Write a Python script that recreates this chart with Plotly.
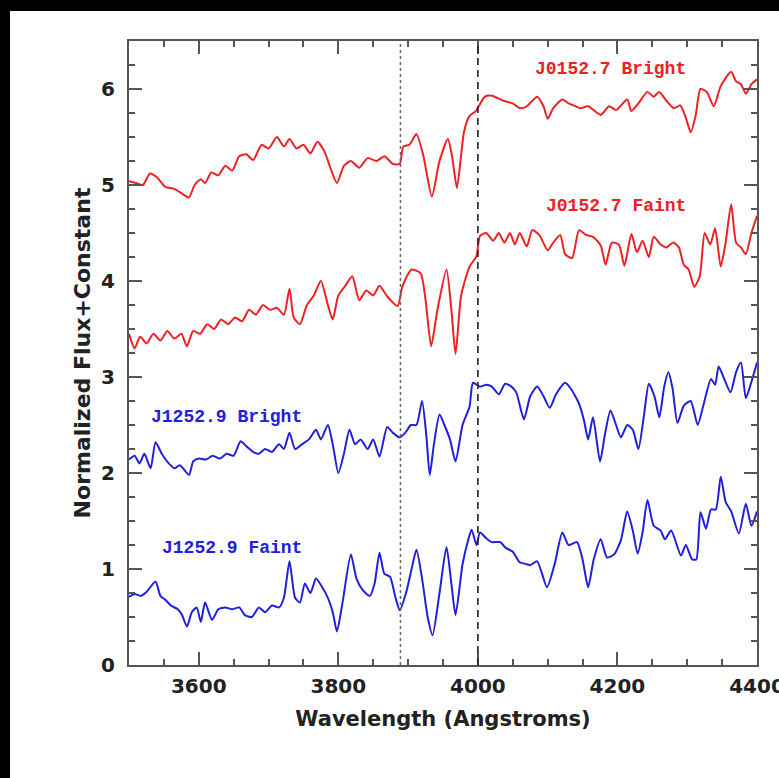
import plotly.graph_objects as go

# ---------------- data ----------------
rb_wl = [3500,3510,3520,3530,3540,3552,3565,3578,3586,3594,3603,3609,3618,3628,3638,3648,3658,3668,3678,3690,
         3700,3712,3722,3730,3740,3750,3760,3770,3780,3790,3798,3808,3818,3830,3842,3855,3866,3878,3888,3893,
         3902,3912,3922,3934,3945,3957,3963,3970,3980,3988,3997,4010,4020,4036,4050,4060,4070,4085,4094,4100,
         4108,4121,4130,4140,4147,4158,4176,4188,4198,4214,4220,4230,4243,4252,4260,4270,4281,4290,4298,4305,
         4312,4319,4328,4338,4348,4363,4370,4377,4384,4392,4400]
rb_fl = [5.04,5.02,5.00,5.12,5.08,4.98,4.96,4.90,4.87,5.00,5.06,5.02,5.13,5.10,5.20,5.15,5.30,5.32,5.26,5.42,
         5.38,5.50,5.40,5.48,5.38,5.42,5.33,5.45,5.35,5.15,5.02,5.20,5.25,5.18,5.28,5.25,5.30,5.22,5.22,5.40,
         5.42,5.53,5.30,4.88,5.25,5.48,5.30,4.97,5.55,5.72,5.77,5.92,5.93,5.88,5.85,5.80,5.82,5.92,5.82,5.69,
         5.80,5.89,5.85,5.82,5.80,5.82,5.73,5.82,5.78,5.89,5.77,5.85,5.97,5.92,5.97,5.88,5.80,5.83,5.70,5.55,
         5.72,6.00,5.97,5.82,6.03,6.18,6.08,6.05,5.95,6.05,6.10]

rf_wl = [3500,3508,3516,3525,3535,3545,3555,3565,3575,3583,3592,3602,3612,3622,3632,3642,3652,3662,3672,3682,
         3692,3702,3712,3722,3730,3736,3745,3755,3765,3775,3785,3792,3800,3810,3820,3830,3840,3850,3859,3870,
         3885,3892,3905,3918,3925,3933,3942,3955,3962,3968,3976,3988,3998,4003,4012,4022,4030,4038,4046,4053,
         4060,4070,4078,4088,4100,4108,4118,4125,4135,4145,4155,4165,4176,4183,4192,4202,4210,4220,4228,4236,
         4245,4252,4262,4270,4280,4288,4295,4302,4310,4318,4325,4333,4340,4348,4355,4363,4370,4377,4384,4392,4400]
rf_fl = [3.45,3.30,3.42,3.35,3.45,3.38,3.48,3.40,3.45,3.32,3.48,3.45,3.55,3.50,3.60,3.55,3.62,3.58,3.70,3.65,
         3.75,3.70,3.72,3.65,3.92,3.62,3.55,3.75,3.85,4.00,3.75,3.60,3.85,3.95,4.05,3.80,3.90,3.85,3.95,3.84,
         3.74,3.95,4.12,4.08,3.80,3.32,3.70,4.12,3.70,3.24,3.85,4.15,4.26,4.47,4.50,4.42,4.50,4.40,4.50,4.38,
         4.50,4.36,4.53,4.48,4.32,4.40,4.48,4.28,4.24,4.53,4.48,4.46,4.37,4.17,4.40,4.38,4.16,4.49,4.30,4.42,
         4.25,4.46,4.38,4.35,4.40,4.35,4.17,4.12,3.94,4.05,4.50,4.38,4.55,4.15,4.40,4.80,4.40,4.35,4.28,4.50,4.68]

bb_wl = [3500,3508,3515,3522,3531,3538,3547,3557,3565,3573,3586,3592,3600,3610,3620,3630,3640,3650,3660,3668,
         3678,3686,3695,3705,3715,3722,3730,3738,3748,3758,3768,3775,3785,3792,3800,3808,3816,3824,3832,3842,
         3850,3859,3870,3878,3888,3896,3904,3912,3920,3926,3931,3937,3945,3952,3960,3968,3978,3988,3993,4003,
         4012,4020,4030,4039,4048,4055,4066,4075,4085,4094,4103,4112,4125,4133,4145,4152,4158,4165,4175,4182,
         4190,4198,4205,4214,4222,4230,4238,4245,4253,4260,4267,4273,4279,4286,4295,4305,4315,4323,4334,4340,
         4345,4353,4362,4370,4377,4384,4392,4400]
bb_fl = [2.14,2.18,2.10,2.20,2.05,2.32,2.20,2.10,2.05,2.08,1.98,2.12,2.15,2.14,2.18,2.15,2.20,2.18,2.33,2.28,
         2.22,2.20,2.25,2.22,2.30,2.25,2.42,2.25,2.30,2.35,2.45,2.35,2.50,2.30,2.00,2.20,2.45,2.30,2.35,2.25,
         2.35,2.17,2.48,2.42,2.37,2.42,2.50,2.50,2.75,2.40,1.98,2.30,2.61,2.50,2.35,2.12,2.50,2.69,2.94,2.90,
         2.92,2.90,2.82,2.93,2.90,2.84,2.56,2.80,2.90,2.80,2.68,2.82,2.94,2.88,2.72,2.55,2.35,2.58,2.12,2.40,
         2.65,2.50,2.37,2.50,2.45,2.25,2.60,2.93,2.80,2.58,2.90,3.05,2.88,2.52,2.70,2.75,2.50,2.70,2.98,2.92,
         3.11,2.98,2.84,3.05,3.15,2.78,2.95,3.15]

bf_wl = [3500,3508,3517,3525,3538,3545,3552,3560,3570,3576,3583,3590,3597,3603,3609,3619,3628,3638,3648,3658,
         3666,3676,3686,3695,3705,3715,3722,3730,3738,3745,3752,3760,3768,3776,3785,3792,3798,3806,3818,3826,
         3835,3845,3852,3859,3866,3874,3882,3888,3897,3905,3912,3920,3928,3935,3945,3955,3962,3968,3978,3986,
         3991,3998,4003,4012,4020,4032,4040,4050,4060,4070,4075,4085,4099,4110,4121,4130,4142,4150,4158,4166,
         4176,4185,4195,4205,4214,4222,4229,4236,4243,4252,4262,4268,4277,4291,4298,4307,4313,4319,4327,4334,
         4341,4348,4355,4363,4374,4384,4392,4400]
bf_fl = [0.71,0.74,0.72,0.76,0.87,0.72,0.68,0.62,0.58,0.52,0.40,0.55,0.60,0.45,0.65,0.47,0.58,0.60,0.58,0.60,
         0.52,0.50,0.60,0.55,0.62,0.60,0.70,1.08,0.70,0.65,0.85,0.75,0.90,0.82,0.70,0.55,0.35,0.65,1.15,0.90,
         0.78,0.72,0.85,1.17,0.95,0.92,0.70,0.57,0.75,1.00,1.20,0.90,0.50,0.31,0.75,1.23,0.85,0.52,1.05,1.30,
         1.41,1.25,1.38,1.32,1.28,1.28,1.22,1.18,1.07,1.05,1.04,1.08,0.81,1.05,1.38,1.25,1.28,1.10,0.81,1.10,
         1.31,1.12,1.15,1.30,1.60,1.40,1.16,1.38,1.72,1.45,1.40,1.31,1.40,1.14,1.25,1.10,1.10,1.59,1.42,1.62,
         1.62,1.96,1.70,1.60,1.37,1.68,1.45,1.60]

labels = ["J0152.7 Bright", "J0152.7 Faint", "J1252.9 Bright", "J1252.9 Faint"]
label_x = [4301, 4301, 3528, 3545]
label_y = [6.21, 4.78, 2.58, 1.22]
label_anchor = ["right", "right", "left", "left"]

x_ticks = [3600, 3800, 4000, 4200, 4400]
y_ticks = [0, 1, 2, 3, 4, 5, 6]
line_dotted = 3889
line_dashed = 4000

RED = "rgb(238,32,36)"
BLUE = "rgb(32,32,220)"
TXT = "#222222"
AX = "#555555"

fig = go.Figure()
for wl, fl, col in [(rb_wl, rb_fl, RED), (rf_wl, rf_fl, RED), (bb_wl, bb_fl, BLUE), (bf_wl, bf_fl, BLUE)]:
    fig.add_trace(go.Scatter(x=wl, y=fl, mode="lines", line=dict(color=col, width=2, shape="spline", smoothing=0.6),
                             showlegend=False, hoverinfo="skip"))

# vertical reference lines
fig.add_shape(type="line", x0=line_dotted, x1=line_dotted, y0=0, y1=6.5, xref="x", yref="y",
              line=dict(color="#666666", width=1.5, dash="dot"))
fig.add_shape(type="line", x0=line_dashed, x1=line_dashed, y0=0, y1=6.5, xref="x", yref="y",
              line=dict(color="#222222", width=1.6, dash="7px,5px"))

for txt, lx, ly, anc, col in zip(labels, label_x, label_y, label_anchor, [RED, RED, BLUE, BLUE]):
    fig.add_annotation(x=lx, y=ly, text=txt, showarrow=False, xanchor=anc, yanchor="middle",
                       font=dict(family="Liberation Mono", size=18, color=col, weight="bold"))

# black border strips (part of the photographed page)
L, R, T, B = 129, 22, 41, 113
W, H = 779, 778
pw, ph = W - L - R, H - T - B
def px2x(px):
    return (px - L) / pw
def py2y(py):
    return (H - B - py) / ph
fig.add_shape(type="rect", xref="paper", yref="paper", x0=px2x(0), x1=px2x(W), y0=py2y(11), y1=py2y(0),
              fillcolor="black", line=dict(width=0), layer="above")
fig.add_shape(type="rect", xref="paper", yref="paper", x0=px2x(0), x1=px2x(10), y0=py2y(H), y1=py2y(0),
              fillcolor="black", line=dict(width=0), layer="above")

axis_common = dict(showgrid=False, zeroline=False, showline=True, linecolor=AX, linewidth=2,
                   mirror="allticks", ticks="inside", tickcolor=AX, tickwidth=2, ticklen=13,
                   ticklabeloverflow="allow",
                   tickfont=dict(family="DejaVu Sans", size=20, color=TXT, weight="bold"))

fig.update_xaxes(range=[3500, 4400], tickvals=x_ticks, ticktext=[str(v) for v in x_ticks],
                 minor=dict(dtick=50, tick0=3500, ticks="inside", ticklen=6, tickcolor=AX, tickwidth=2),
                 ticklabelstandoff=2,
                 title=dict(text="Wavelength (Angstroms)", standoff=14,
                            font=dict(family="DejaVu Sans", size=21, color=TXT, weight="bold")),
                 **axis_common)
fig.update_yaxes(range=[0, 6.5], tickvals=y_ticks, ticktext=[str(v) for v in y_ticks],
                 minor=dict(dtick=0.25, tick0=0, ticks="inside", ticklen=6, tickcolor=AX, tickwidth=2),
                 ticklabelstandoff=8,
                 title=dict(text="Normalized Flux+Constant", standoff=4,
                            font=dict(family="DejaVu Sans", size=22, color=TXT, weight="bold")),
                 **axis_common)

fig.update_layout(width=W, height=H, margin=dict(l=L, r=R, t=T, b=B, autoexpand=False),
                  paper_bgcolor="white", plot_bgcolor="white")

fig.write_html("out.html")
